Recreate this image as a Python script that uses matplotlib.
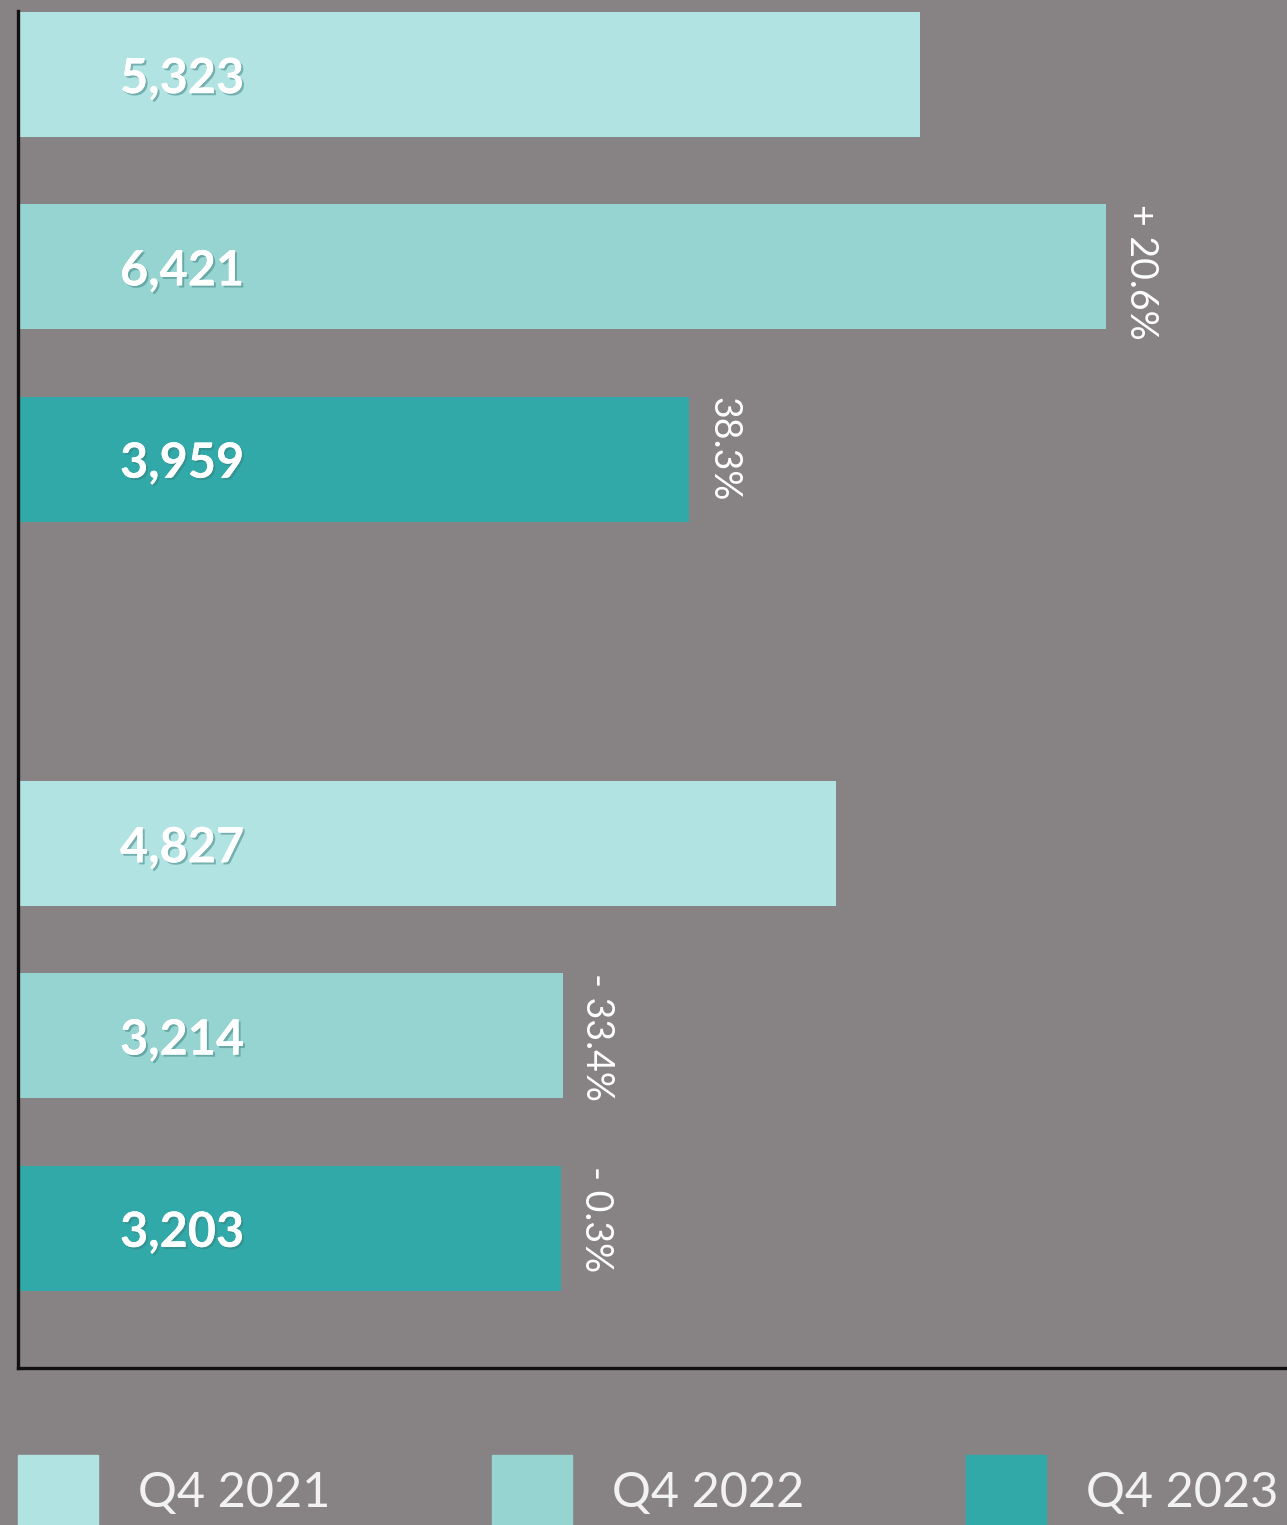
import matplotlib
matplotlib.use("Agg")
import matplotlib.pyplot as plt
import matplotlib.patheffects as pe
from matplotlib.patches import Rectangle

# --- data ---
values = [5323, 6421, 3959, 4827, 3214, 3203]
value_labels = ["5,323", "6,421", "3,959", "4,827", "3,214", "3,203"]
positions = [0, 1, 2, 4, 5, 6]
series_idx = [0, 1, 2, 0, 1, 2]
change_labels = [None, "+ 20.6%", "38.3%", None, "- 33.4%", "- 0.3%"]
legend_labels = ["Q4 2021", "Q4 2022", "Q4 2023"]

BG = "#878384"
COLORS = ["#b0e3e1", "#96d4d2", "#30a9a8"]
BAR_H = 0.65
FONT = ["Lato", "DejaVu Sans"]

fig = plt.figure(figsize=(12.87, 15.25), dpi=100, facecolor=BG)
W, H = 1287, 1525
ax = fig.add_axes([18 / W, (H - 1368) / H, (W - 18) / W, (1368 - 11) / H])
ax.set_facecolor(BG)

ax.barh(positions, values, height=BAR_H,
        color=[COLORS[i] for i in series_idx], zorder=2)

ax.set_xlim(0, 7487)
ax.set_ylim(6.727, -0.33)

for s in ("top", "right"):
    ax.spines[s].set_visible(False)
for s in ("left", "bottom"):
    ax.spines[s].set_color("#111111")
    ax.spines[s].set_linewidth(2.4)
ax.set_xticks([])
ax.set_yticks([])

shadow = [pe.withSimplePatchShadow(offset=(1.5, -1.5), shadow_rgbFace="#3a7f7e", alpha=0.5),
          pe.Normal()]

for pos, val, lab, chg in zip(positions, values, value_labels, change_labels):
    ax.annotate(lab, xy=(0.0804, pos), xycoords=ax.get_yaxis_transform(),
                xytext=(0, -3), textcoords="offset points",
                ha="left", va="center", color="white", fontsize=35,
                fontweight="bold", family=FONT,
                path_effects=shadow, zorder=3)
    if chg:
        ax.annotate(chg, xy=(val, pos - BAR_H / 2), xytext=(12, 0),
                    textcoords="offset points", rotation=270,
                    ha="left", va="top", color="white", fontsize=27,
                    fontweight="normal", family=FONT, zorder=3)

# --- legend along the bottom edge ---
for i, lab in enumerate(legend_labels):
    x0 = 18 + i * 474
    fig.add_artist(Rectangle((x0 / W, 0), 80 / W, 70 / H,
                             transform=fig.transFigure, color=COLORS[i]))
    fig.text((x0 + 120) / W, (H - 1493) / H, lab, ha="left", va="center",
             color="#f2f2f2", fontsize=35, fontweight="normal", family=FONT)

fig.savefig("out.png", dpi=100, facecolor=BG)
